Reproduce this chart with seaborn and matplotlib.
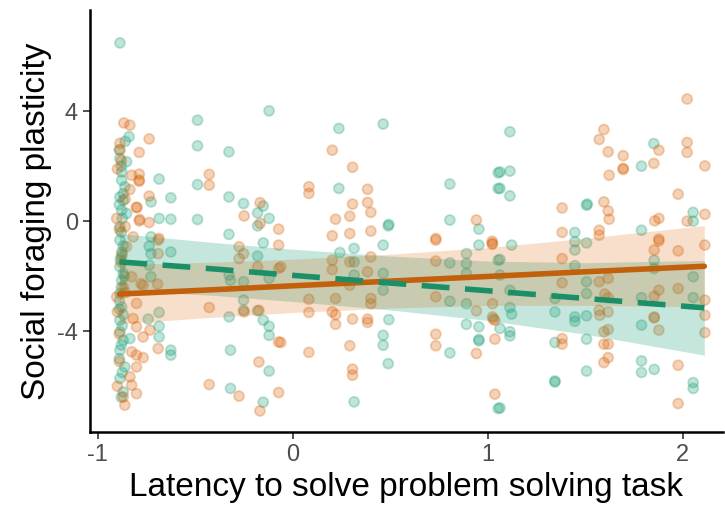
import numpy as np
import pandas as pd
import seaborn as sns
import matplotlib.pyplot as plt

# puntos (latencia, plasticidad)
green_points = [
    # columna de latencia minima
    (-0.887, 6.48), (-0.84, 3.07), (-0.86, 2.9), (-0.887, 2.28), (-0.853, 2.16), (-0.878, 1.79),
    (-0.878, 1.49), (-0.862, 1.25), (-0.887, 0.88), (-0.87, 0.76), (-0.878, 0.4), (-0.853, 0.28),
    (-0.887, -0.21), (-0.887, -0.69), (-0.878, -1.12), (-0.887, -1.66), (-0.878, -2.15), (-0.887, -2.63),
    (-0.878, -3.12), (-0.887, -3.6), (-0.887, -4.02), (-0.87, -4.33), (-0.887, -4.69), (-0.862, -5.3),
    (-0.887, -5.72), (-0.87, -6.21), (-0.836, -4.27), (-0.88, 2.0), (-0.87, 1.0), (-0.89, 0.6),
    (-0.875, 0.1), (-0.88, -0.4), (-0.87, -0.9), (-0.885, -1.4), (-0.87, -1.9), (-0.88, -2.4),
    (-0.89, -2.9), (-0.87, -3.4), (-0.875, -3.8), (-0.88, -4.5), (-0.89, -5.0), (-0.875, -5.5),
    (-0.88, -6.4), (-0.89, 2.6), (-0.88, -1.3), (-0.865, -2.0), (-0.89, -3.2),
    # resto
    (-0.122, 4.01), (-0.489, 3.67), (-0.489, 2.74), (-0.328, 2.52), (-0.686, 1.53), (-0.489, 1.33),
    (-0.626, 0.85), (-0.328, 0.88), (-0.253, 0.64), (-0.152, 0.55), (-0.181, 0.30), (-0.122, 0.10),
    (-0.686, 0.10), (-0.626, 0.07), (-0.489, 0.06), (-0.181, -0.17), (-0.328, -0.48), (-0.727, -0.57),
    (-0.727, 0.70), (-0.737, -0.91), (-0.728, -1.18), (-0.626, -1.12), (-0.737, -1.6), (-0.728, -2.02),
    (-0.152, -0.79), (-0.181, -1.27), (-0.327, -1.96), (-0.32, -2.15), (-0.253, -2.2), (-0.122, -2.08),
    (-0.253, -2.87), (-0.253, -3.24), (-0.181, -3.26), (-0.327, -3.48), (-0.152, -3.6), (-0.122, -3.82),
    (-0.122, -4.15), (-0.686, -3.32), (-0.686, -3.82), (-0.742, -3.56), (-0.686, -4.21), (-0.626, -4.69),
    (-0.626, -4.87), (-0.32, -4.69), (-0.122, -5.45), (-0.32, -6.08), (-0.152, -6.58),
    (0.236, 3.37), (0.463, 3.53), (0.236, 1.19), (0.805, 1.35), (1.053, 1.76), (1.053, 1.19),
    (0.805, 0.04), (0.954, -0.29), (0.489, -0.17), (0.492, -0.12), (0.314, -0.99), (0.241, -1.14),
    (0.314, -1.48), (0.314, -1.96), (0.463, -0.87), (0.463, -1.9), (0.463, -2.51), (0.492, -3.58),
    (0.463, -4.15), (0.463, -4.51), (0.489, -5.18), (0.314, -6.57), (0.805, -1.52), (0.805, -2.91),
    (0.805, -4.79), (0.954, -0.87), (0.89, -1.18), (0.89, -1.54), (0.89, -1.9), (0.89, -3.0),
    (0.89, -3.75), (0.954, -3.84), (0.954, -4.3), (0.954, -4.35), (1.053, -1.42), (1.053, -6.81),
    (1.113, 3.25), (1.062, 1.79), (1.113, 1.82), (1.062, 1.19), (1.113, 0.92), (1.506, 0.58),
    (1.51, 0.62), (1.788, 2.0), (1.851, 2.82), (2.053, 0.32), (2.053, 0.0), (1.446, -0.41),
    (1.788, -0.33), (1.062, -1.39), (1.122, -0.87), (1.062, -1.96), (1.113, -2.51), (1.113, -3.14),
    (1.122, -3.38), (1.062, -3.9), (1.113, -4.02), (1.113, -4.17), (1.062, -6.79), (1.344, -2.81),
    (1.344, -3.3), (1.344, -4.41), (1.344, -5.81), (1.344, -5.85), (1.446, -0.75), (1.446, -1.05),
    (1.446, -1.62), (1.446, -3.48), (1.446, -3.64), (1.506, -0.79), (1.506, -2.2), (1.506, -2.63),
    (1.506, -3.44), (1.506, -4.29), (1.506, -5.45), (1.788, -2.78), (1.788, -3.78), (1.788, -5.08),
    (1.788, -5.5), (1.853, -5.39), (1.853, -1.42), (1.853, -1.72), (2.053, -2.02), (2.053, -2.78),
    (2.053, -5.87), (2.053, -6.08),
]

orange_points = [
    # columna de latencia minima
    (-0.867, 3.57), (-0.836, 3.49), (-0.887, 2.83), (-0.887, 2.58), (-0.827, 1.67), (-0.788, 1.49),
    (-0.836, 1.15), (-0.802, 0.5), (-0.785, 0.06), (-0.904, 0.1), (-0.819, -0.57), (-0.853, -0.93),
    (-0.904, -2.75), (-0.827, -2.02), (-0.768, -2.33), (-0.802, -2.99), (-0.819, -3.54), (-0.802, -3.84),
    (-0.768, -4.21), (-0.827, -4.75), (-0.802, -4.87), (-0.768, -4.96), (-0.802, -5.3), (-0.836, -5.66),
    (-0.827, -5.96), (-0.802, -6.27), (-0.862, -6.69), (-0.87, -6.39), (-0.89, -0.3), (-0.88, -1.5),
    (-0.87, -2.4), (-0.9, -3.3), (-0.89, -4.1), (-0.875, -1.2), (-0.86, 0.8), (-0.88, 2.2),
    (-0.9, -6.0), (-0.89, -5.1), (-0.86, -2.6), (-0.9, 1.9), (-0.86, -0.2),
    # resto
    (-0.737, 2.99), (-0.788, 2.50), (-0.429, 1.70), (-0.429, 1.31), (-0.788, 1.71), (-0.788, 1.45),
    (-0.737, 0.91), (-0.8, 0.50), (-0.788, 0.01), (-0.737, -0.05), (-0.168, 0.67), (-0.25, 0.19),
    (-0.168, -0.08), (-0.073, -0.29), (-0.687, -0.63), (-0.691, -1.18), (-0.694, -2.29), (-0.779, -2.27),
    (-0.429, -3.14), (-0.276, -0.93), (-0.253, -1.18), (-0.276, -1.36), (-0.181, -1.66), (-0.073, -0.87),
    (-0.073, -1.72), (-0.25, -3.3), (-0.174, -3.24), (-0.733, -3.96), (-0.691, -4.63), (-0.174, -5.12),
    (-0.073, -4.39), (-0.429, -5.94), (-0.276, -6.36), (-0.169, -6.9), (-0.073, -6.23), (-0.691, -0.69),
    (0.202, 2.58), (0.306, 1.96), (0.082, 1.25), (0.082, 1.01), (0.383, 1.16), (0.306, 0.62),
    (0.383, 0.68), (0.4, 0.32), (0.292, 0.18), (0.219, 0.07), (0.941, 0.04), (0.202, -0.53),
    (0.292, -0.45), (0.4, -0.36), (0.733, -0.63), (0.733, -0.69), (1.022, -0.73),
    (0.082, -2.84), (0.082, -3.32), (0.202, -3.3), (0.219, -3.4), (0.219, -3.75), (0.306, -3.56),
    (0.383, -3.56), (0.383, -3.68), (0.4, -2.81), (0.4, -3.0), (0.202, -1.42), (0.202, -1.76),
    (0.292, -1.48), (0.4, -1.3), (0.383, -1.84), (0.219, -2.81), (0.292, -2.33), (-0.062, -4.41),
    (0.082, -4.77), (0.292, -4.53), (0.306, -5.38), (0.306, -5.6), (-0.062, -1.66), (0.733, -1.45),
    (0.733, -2.75), (0.733, -4.11), (0.733, -4.53), (0.941, -3.26), (0.941, -4.81), (1.022, -0.84),
    (1.027, -3.56),
    (2.022, 4.44), (1.595, 3.33), (1.571, 2.97), (1.617, 2.52), (1.694, 2.38), (1.694, 1.92),
    (1.694, 1.88), (1.622, 1.67), (1.877, 2.58), (1.851, 2.1), (2.022, 2.86), (2.022, 2.5),
    (2.113, 2.01), (1.976, 0.98), (1.381, 0.48), (1.595, 0.7), (1.617, 0.37), (1.622, 0.07),
    (1.856, 0.01), (1.877, 0.1), (2.022, 0.0), (2.113, 0.25), (1.381, -0.41), (1.571, -0.33),
    (1.571, -0.51), (1.877, -0.65), (1.024, -0.81), (1.381, -1.36), (1.381, -2.24), (1.571, -2.2),
    (1.617, -2.08), (1.6, -2.65), (1.617, -2.78), (1.571, -3.24), (1.574, -3.42), (1.617, -3.3),
    (1.595, -4.02), (1.617, -3.94), (1.595, -4.47), (1.617, -4.47), (1.617, -4.96), (1.595, -5.14),
    (1.381, -4.27), (1.381, -4.47), (1.036, -3.6), (1.036, -4.29), (1.036, -6.29), (1.853, -1.05),
    (1.877, -0.72), (1.877, -2.51), (1.853, -2.73), (1.853, -3.48), (1.853, -3.52), (1.877, -3.96),
    (1.976, -1.08), (1.976, -2.45), (1.976, -5.24), (1.976, -6.63), (2.113, -0.87), (2.113, -2.87),
    (2.113, -3.42), (2.113, -4.05), (1.024, -3.0), (1.024, -3.48),
]

# rectas ajustadas y bandas de confianza
fit_x = [-0.89, -0.4, 0.0, 0.5, 1.0, 1.5, 2.11]
orange_fit = [-2.65, -2.49, -2.35, -2.18, -2.01, -1.84, -1.64]
orange_lo = [-3.73, -3.49, -3.32, -3.16, -3.06, -3.06, -3.12]
orange_hi = [-1.57, -1.49, -1.38, -1.20, -0.96, -0.62, -0.16]
green_fit = [-1.48, -1.74, -1.97, -2.25, -2.53, -2.81, -3.15]
green_lo = [-2.51, -2.70, -2.92, -3.23, -3.61, -4.11, -4.87]
green_hi = [-0.45, -0.78, -1.02, -1.27, -1.45, -1.51, -1.43]

green = '#1b9e77'
orange = '#d95f02'

df = pd.concat([
    pd.DataFrame(green_points, columns=['x', 'y']).assign(grupo='g'),
    pd.DataFrame(orange_points, columns=['x', 'y']).assign(grupo='o'),
])
fits = pd.DataFrame({'x': fit_x, 'orange': orange_fit, 'green': green_fit})

sns.set_theme(style='ticks')
plt.rcParams['font.family'] = ['Liberation Sans', 'DejaVu Sans']
plt.rcParams['axes.unicode_minus'] = False

fig = plt.figure(figsize=(7.25, 5.09), dpi=100)
ax = fig.add_axes([0.124, 0.151, 0.873, 0.829])

sns.scatterplot(data=df, x='x', y='y', hue='grupo', palette={'g': green, 'o': orange},
                s=52, alpha=0.28, linewidth=1.3, legend=False, ax=ax)
for c in ax.collections:
    c.set_edgecolor(c.get_facecolor())

ax.fill_between(fit_x, green_lo, green_hi, color=green, alpha=0.25, linewidth=0)
ax.fill_between(fit_x, orange_lo, orange_hi, color=orange, alpha=0.2, linewidth=0)
sns.lineplot(data=fits, x='x', y='orange', color='#c2600c', linewidth=4, ax=ax)
sns.lineplot(data=fits, x='x', y='green', color='#1b9068', linewidth=4, ax=ax)
ax.lines[-1].set_dashes((5, 2.8))

ax.set_xlim(-1.041, 2.205)
ax.set_ylim(-7.67, 7.67)
ax.set_xticks([-1, 0, 1, 2])
ax.set_yticks([-4, 0, 4])
ax.tick_params(labelsize=17, labelcolor='#4d4d4d', length=5, width=1.2, color='#333333')
ax.set_xlabel('Latency to solve problem solving task', fontsize=24, color='black')
ax.set_ylabel('Social foraging plasticity', fontsize=24, color='black')
sns.despine(ax=ax)
for s in ['left', 'bottom']:
    ax.spines[s].set_linewidth(1.8)
    ax.spines[s].set_color('black')

fig.savefig('out.png', dpi=100)
